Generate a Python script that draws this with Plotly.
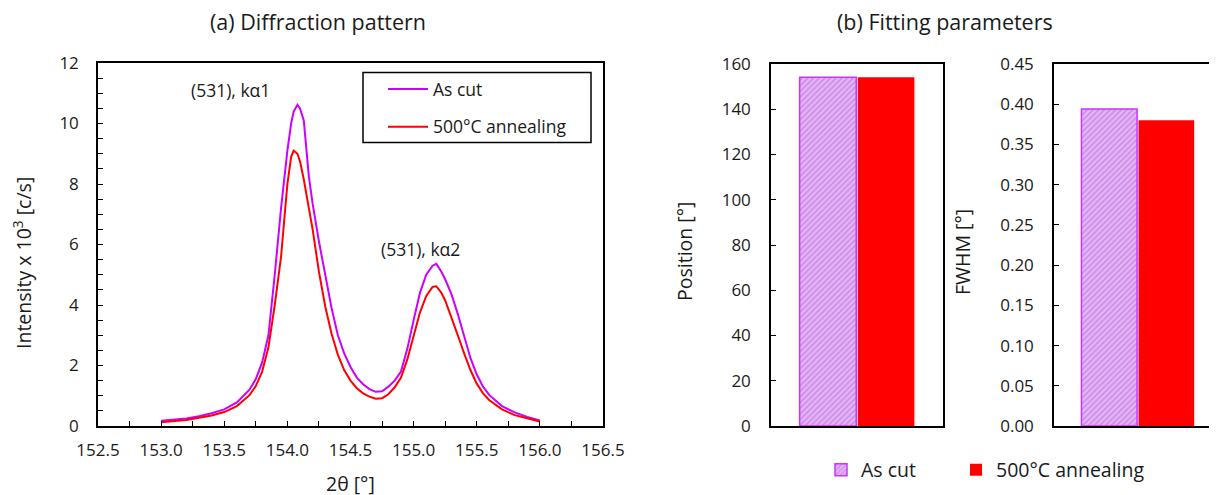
import plotly.graph_objects as go

# ---------------- data ----------------
theta = [153.00, 153.10, 153.20, 153.30, 153.40, 153.50, 153.60, 153.70, 153.75, 153.80,
         153.85, 153.90, 153.95, 154.00, 154.03, 154.05, 154.08, 154.10, 154.13, 154.17,
         154.20, 154.25, 154.30, 154.35, 154.40, 154.45, 154.50, 154.55, 154.60, 154.65,
         154.70, 154.75, 154.80, 154.85, 154.90, 154.95, 155.00, 155.05, 155.10, 155.15,
         155.18, 155.22, 155.25, 155.30, 155.35, 155.40, 155.45, 155.50, 155.55, 155.60,
         155.70, 155.80, 155.90, 156.00]

as_cut = [0.17, 0.20, 0.25, 0.32, 0.42, 0.55, 0.78, 1.20, 1.55, 2.10,
          3.00, 5.00, 7.20, 9.10, 10.00, 10.40, 10.62, 10.50, 10.10, 8.25,
          7.35, 6.10, 4.95, 3.90, 3.00, 2.40, 1.95, 1.60, 1.38, 1.22,
          1.13, 1.15, 1.30, 1.50, 1.80, 2.55, 3.50, 4.40, 5.00, 5.30,
          5.36, 5.10, 4.85, 4.35, 3.70, 2.95, 2.25, 1.70, 1.30, 1.02,
          0.66, 0.45, 0.30, 0.18]

annealed = [0.12, 0.15, 0.20, 0.27, 0.35, 0.46, 0.66, 1.02, 1.32, 1.80,
            2.60, 4.00, 5.60, 8.00, 8.90, 9.10, 9.00, 8.75, 8.15, 7.20,
            6.50, 5.10, 3.95, 3.05, 2.35, 1.85, 1.50, 1.25, 1.08, 0.97,
            0.90, 0.92, 1.05, 1.28, 1.60, 2.20, 2.95, 3.75, 4.30, 4.60,
            4.62, 4.40, 4.15, 3.60, 3.00, 2.40, 1.85, 1.40, 1.08, 0.85,
            0.55, 0.36, 0.25, 0.15]

series_names = ["As cut", "500°C annealing"]
position_vals = [154.1, 154.1]     # Position [°]
fwhm_vals = [0.394, 0.380]         # FWHM [°]

x_ticks = [152.5, 153.0, 153.5, 154.0, 154.5, 155.0, 155.5, 156.0, 156.5]

# ---------------- style ----------------
W, H = 1217, 495
OFF = 8  # page body offset of the plot in the browser window
FONT = "Open Sans"
TXT = "#1a1a1a"
PURPLE = "#cc00ff"
RED = "#ff0000"


def px(x):
    return (x - OFF) / W


def py(y):
    return 1 - (y - OFF) / H


fig = go.Figure()

fig.add_trace(go.Scatter(x=theta, y=as_cut, mode="lines", name=series_names[0],
                         line=dict(color=PURPLE, width=2), legend="legend",
                         legendgroup="a", xaxis="x", yaxis="y"))
fig.add_trace(go.Scatter(x=theta, y=annealed, mode="lines", name=series_names[1],
                         line=dict(color=RED, width=2), legend="legend",
                         legendgroup="b", xaxis="x", yaxis="y"))

as_cut_marker = dict(color="#d9a3f0",
                     pattern=dict(shape="/", bgcolor="#e2b6f3", fgcolor="#b550e0",
                                  size=4, solidity=0.35),
                     line=dict(color="#cc33ff", width=1.5))
ann_marker = dict(color=RED, line=dict(color=RED, width=0))

fig.add_trace(go.Bar(x=[0], y=[position_vals[0]], name=series_names[0], marker=as_cut_marker,
                     legend="legend2", xaxis="x2", yaxis="y2"))
fig.add_trace(go.Bar(x=[0], y=[position_vals[1]], name=series_names[1], marker=ann_marker,
                     legend="legend3", xaxis="x2", yaxis="y2"))
fig.add_trace(go.Bar(x=[0], y=[fwhm_vals[0]], name=series_names[0], marker=as_cut_marker,
                     showlegend=False, xaxis="x3", yaxis="y3"))
fig.add_trace(go.Bar(x=[0], y=[fwhm_vals[1]], name=series_names[1], marker=ann_marker,
                     showlegend=False, xaxis="x3", yaxis="y3"))

axis_common = dict(showline=True, linecolor="black", linewidth=1.5, showgrid=False,
                   zeroline=False, ticks="inside", ticklen=5, tickcolor="black",
                   automargin=False,
                   tickfont=dict(family=FONT, size=17, color=TXT))

ybot, ytop_a, ytop_b = py(426), py(63), py(64)

legend_font = dict(family=FONT, size=17.5, color=TXT)
legend2_font = dict(family=FONT, size=19.5, color=TXT)


def label(text, x, y, size, angle=0):
    return dict(text=text, x=px(x), y=py(y), xref="paper", yref="paper",
                xanchor="center", yanchor="middle", showarrow=False, textangle=angle,
                font=dict(size=size, family=FONT, color=TXT))


fig.update_layout(
    width=W, height=H,
    margin=dict(l=0, r=0, t=0, b=0, autoexpand=False),
    paper_bgcolor="white", plot_bgcolor="white",
    font=dict(family=FONT, size=15, color=TXT),
    barmode="group", bargap=0.324, bargroupgap=0.026,
    xaxis=dict(domain=[px(98), px(603)], range=[152.5, 156.5], tickvals=x_ticks,
               tickformat=".1f", mirror=True, ticklabelstandoff=8,
               minor=dict(dtick=0.25, tick0=152.5, ticks="inside", ticklen=5, tickcolor="black"),
               anchor="y", **axis_common),
    yaxis=dict(domain=[ybot, ytop_a], range=[0, 12], dtick=2, mirror=True,
               ticklabelstandoff=14,
               minor=dict(dtick=0.5, ticks="inside", ticklen=5, tickcolor="black"),
               anchor="x", **axis_common),
    xaxis2=dict(domain=[px(771), px(943)], range=[-0.5, 0.5], showticklabels=False,
                mirror=True, anchor="y2",
                **{**axis_common, "ticks": ""}),
    yaxis2=dict(domain=[ybot, ytop_b], range=[0, 160], dtick=20, mirror=True,
                ticklabelstandoff=15, anchor="x2", **axis_common),
    xaxis3=dict(domain=[px(1054), 1.0], range=[-0.496, 0.516], showticklabels=False,
                mirror=True, anchor="y3",
                **{**axis_common, "ticks": ""}),
    yaxis3=dict(domain=[ybot, ytop_b], range=[0, 0.45], dtick=0.05, tickformat=".2f",
                mirror=False, ticklabelstandoff=15, anchor="x3", **axis_common),
    legend=dict(x=px(383), y=py(71), xanchor="left", yanchor="top",
                bgcolor="rgba(0,0,0,0)", borderwidth=0, itemwidth=40,
                tracegroupgap=12, font=legend_font),
    legend2=dict(orientation="h", x=px(821), y=py(470), xanchor="left", yanchor="middle",
                 bgcolor="rgba(0,0,0,0)", borderwidth=0, font=legend2_font),
    legend3=dict(orientation="h", x=px(956), y=py(470), xanchor="left", yanchor="middle",
                 bgcolor="rgba(0,0,0,0)", borderwidth=0, font=legend2_font),
    shapes=[dict(type="rect", xref="paper", yref="paper",
                 x0=px(363), x1=px(591), y0=py(142.5), y1=py(72.5),
                 line=dict(color="black", width=1.5), fillcolor="rgba(0,0,0,0)")],
    annotations=[
        label("(a) Diffraction pattern", 318, 22, 21.5),
        label("(b) Fitting parameters", 945, 22, 21.5),
        label("2θ [°]", 350, 483, 19.5),
        label("Intensity x 10<sup>3</sup> [c/s]", 22, 263, 19.5, -90),
        label("Position [°]", 684, 252, 19.5, -90),
        label("FWHM [°]", 962, 252, 19.5, -90),
        label("(531), kα1", 231, 90, 17.5),
        label("(531), kα2", 420, 249, 17.5),
    ],
)

fig.write_html("out.html")
